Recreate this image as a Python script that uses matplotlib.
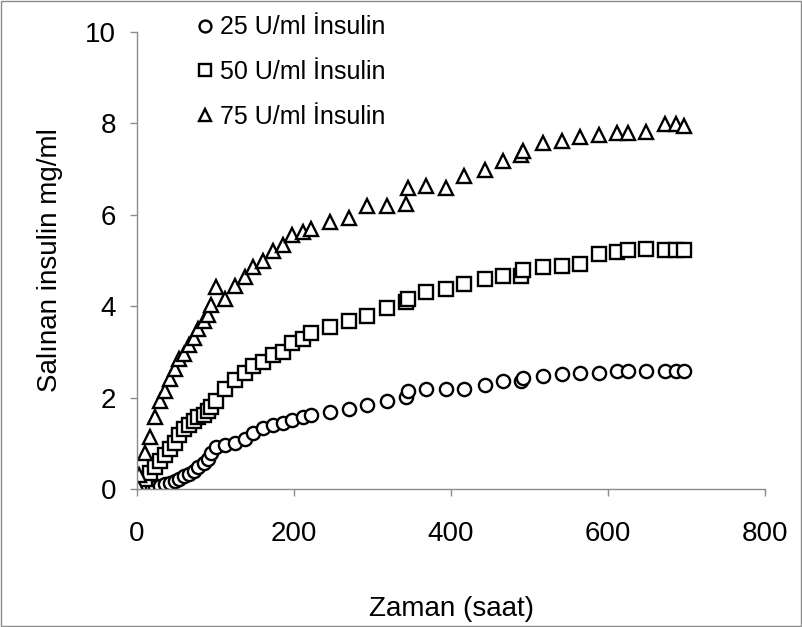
import matplotlib.pyplot as plt
from matplotlib.patches import Rectangle

plt.rcParams['font.family'] = ['Liberation Sans', 'DejaVu Sans']

# time points (saat), shared by the three series
saat = [0, 3, 10, 16, 23, 29, 36, 42, 48, 54, 60, 66, 72, 78, 85, 91, 94, 101,
        112, 125, 137, 148, 161, 173, 186, 197, 211, 221, 246, 270, 293, 318,
        342, 345, 368, 393, 417, 443, 466, 489, 492, 517, 541, 564, 588, 612,
        625, 648, 672, 686, 697]

ins_25 = [0.0, 0.01, 0.02, 0.03, 0.05, 0.07, 0.10, 0.13, 0.17, 0.22, 0.28, 0.33,
          0.39, 0.48, 0.57, 0.66, 0.79, 0.92, 0.96, 1.00, 1.09, 1.22, 1.33, 1.40,
          1.44, 1.50, 1.57, 1.62, 1.68, 1.75, 1.83, 1.92, 2.01, 2.14, 2.18, 2.18,
          2.18, 2.27, 2.36, 2.36, 2.43, 2.47, 2.51, 2.53, 2.53, 2.58, 2.58, 2.58,
          2.58, 2.58, 2.58]

ins_50 = [0.0, 0.09, 0.22, 0.35, 0.48, 0.61, 0.74, 0.87, 1.00, 1.18, 1.31, 1.40,
          1.48, 1.57, 1.62, 1.70, 1.79, 1.92, 2.18, 2.38, 2.53, 2.69, 2.79, 2.93,
          3.00, 3.19, 3.28, 3.41, 3.54, 3.67, 3.78, 3.97, 4.10, 4.15, 4.31, 4.37,
          4.48, 4.60, 4.67, 4.67, 4.80, 4.85, 4.89, 4.93, 5.14, 5.18, 5.24, 5.26,
          5.24, 5.24, 5.24]

ins_75 = [0.09, 0.30, 0.79, 1.14, 1.57, 1.92, 2.14, 2.40, 2.62, 2.84, 2.95, 3.15,
          3.30, 3.50, 3.67, 3.80, 4.02, 4.41, 4.15, 4.45, 4.65, 4.86, 5.00, 5.20,
          5.35, 5.56, 5.63, 5.69, 5.85, 5.94, 6.20, 6.20, 6.24, 6.59, 6.64, 6.59,
          6.84, 6.99, 7.18, 7.31, 7.40, 7.58, 7.62, 7.70, 7.75, 7.79, 7.79, 7.82,
          7.99, 7.99, 7.95]

labels = ["25 U/ml İnsulin", "50 U/ml İnsulin", "75 U/ml İnsulin"]
markers = ["o", "s", "^"]

fig = plt.figure(figsize=(8.02, 6.27), dpi=100)
ax = fig.add_axes([0.1708, 0.22, 0.7832, 0.729])

for y, m, lab in zip([ins_25, ins_50, ins_75], markers, labels):
    ax.plot(saat, y, linestyle='none', marker=m, markersize=9.5,
            markerfacecolor='white', markeredgecolor='black',
            markeredgewidth=1.7, label=lab)

ax.set_xlim(0, 800)
ax.set_ylim(0, 10)
ax.set_xticks([0, 200, 400, 600, 800])
ax.set_yticks([0, 2, 4, 6, 8, 10])

for s in ['top', 'right']:
    ax.spines[s].set_visible(False)
for s in ['left', 'bottom']:
    ax.spines[s].set_color('#8c8c8c')
    ax.spines[s].set_linewidth(1.0)
ax.tick_params(axis='both', colors='#8c8c8c', labelcolor='black',
               labelsize=20, length=5, width=1.0, direction='out')
ax.tick_params(axis='x', pad=18)
ax.tick_params(axis='y', pad=10)

ax.set_xlabel("Zaman (saat)", fontsize=20, labelpad=35)
ax.set_ylabel("Salınan insulin mg/ml", fontsize=20, labelpad=16)

leg = ax.legend(loc='upper left', bbox_to_anchor=(175 / 802, 1 + 7 / 627),
                bbox_transform=fig.transFigure, frameon=False, fontsize=18,
                handlelength=0.6, handletextpad=0.28, labelspacing=0.83,
                markerscale=0.9)

fig.patches.append(Rectangle((0.001, 0.001), 0.998, 0.998, transform=fig.transFigure,
                             fill=False, edgecolor='#8c8c8c', linewidth=1.0))

fig.savefig("out.png", dpi=100)
